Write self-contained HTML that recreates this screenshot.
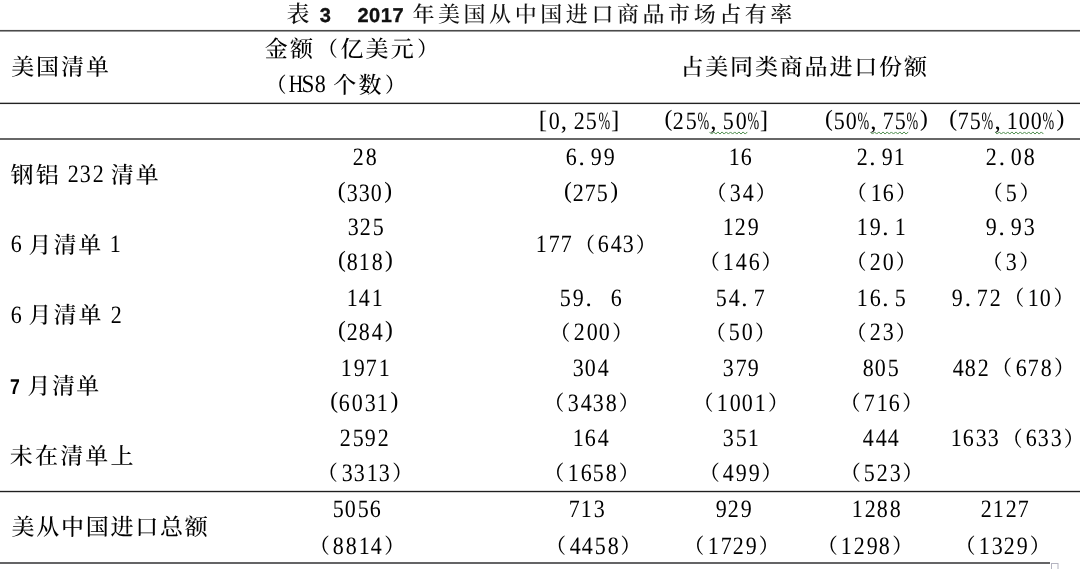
<!DOCTYPE html><html><head><meta charset="utf-8"><title>表3 2017年美国从中国进口商品市场占有率</title><style>
html,body{margin:0;padding:0;background:#fff}
body{width:1080px;height:569px;position:relative;overflow:hidden;text-rendering:geometricPrecision;-webkit-font-smoothing:antialiased}
.ln{position:absolute;white-space:nowrap;height:40px;line-height:40px;font-family:"Liberation Serif","Noto Serif CJK SC",serif;font-size:25px;color:#000;font-weight:500}
.ln span,.ln i{display:inline-block;text-align:center;font-style:normal;vertical-align:baseline}
.ln b{position:relative;display:inline-block;font-weight:inherit}
.ln .f{font-family:"Liberation Serif","Noto Serif CJK SC",serif;font-size:23px;text-align:left;font-weight:500;position:relative;top:0.6px}
.ln .p{font-size:20.5px;top:0}
.ln .k{font-family:"Liberation Sans",sans-serif;font-size:21.5px}
.ln .k b{font-weight:bold}
.ln u{display:inline-block;width:0;height:0;vertical-align:baseline}


.rule{position:absolute;left:0;width:1080px}
.tt{position:absolute;white-space:nowrap;line-height:40px;height:40px;color:#111}
.tt .c{font-family:"Liberation Serif","Noto Serif CJK SC",serif;font-size:22px;font-weight:500}
.tt .d{font-family:"Liberation Sans",sans-serif;font-weight:bold;font-size:20px;letter-spacing:0.6px;-webkit-text-stroke:0.35px #111}
svg{position:absolute;left:0;top:0}
</style></head><body>

<div class="tt" style="left:286.60px;top:-5.00px"><span class="c" style="font-size:23px">表</span></div>
<div class="tt" style="left:319.80px;top:-3.70px"><span class="d">3</span></div>
<div class="tt" style="left:357.40px;top:-3.70px"><span class="d">2017</span></div>
<div class="tt" style="left:412.40px;top:-4.70px"><span class="c" style="letter-spacing:3.57px">年美国从中国进口商品市场占有率</span></div>
<div class="rule" style="top:29px;height:1px;background:#f2f2f2"></div>
<div class="rule" style="top:30px;height:1px;background:#4a4a4a"></div>
<div class="rule" style="top:31px;height:1px;background:#9a9a9a"></div>
<div class="rule" style="top:102px;height:1px;background:#b8b8b8"></div>
<div class="rule" style="top:103px;height:1px;background:#222"></div>
<div class="rule" style="top:104px;height:1px;background:#f0f0f0"></div>
<div class="rule" style="top:138px;height:2px;background:#676767"></div>
<div class="rule" style="top:490px;height:1px;background:#dadada"></div>
<div class="rule" style="top:491px;height:1px;background:#1f1f1f"></div>
<div class="rule" style="top:492px;height:1px;background:#d0d0d0"></div>
<div class="rule" style="top:562px;height:2px;width:1050px;background:#646466"></div>
<div class="ln" style="left:11.15px;top:47.70px"><span class="f" style="width:24.943px">美</span><span class="f" style="width:24.943px">国</span><span class="f" style="width:24.943px">清</span><span class="f" style="width:24.943px">单</span></div>
<div class="ln" style="left:264.85px;top:29.50px"><span class="f" style="width:25.200px">金</span><span class="f" style="width:25.200px">额</span><span class="f p" style="width:25.200px"><b style="left:2.00px;top:-0.50px;margin-right:-30px">（</b></span><span class="f" style="width:25.200px">亿</span><span class="f" style="width:25.200px">美</span><span class="f" style="width:25.200px">元</span><span class="f p" style="width:25.200px"><b style="left:1.40px;top:-0.50px;margin-right:-30px">）</b></span></div>
<div class="ln" style="left:264.00px;top:65.30px"><span class="f p" style="width:25.200px"><b style="left:2.00px;top:-0.50px;margin-right:-30px">（</b></span><span class="h" style="width:12.600px"><b style="left:0.50px;top:0.00px;margin:0 -30px;transform:scaleX(0.80)">H</b></span><span class="h" style="width:12.600px"><b style="left:0.30px;top:0.00px;margin:0 -30px;transform:scaleX(0.93)">S</b></span><span class="h" style="width:12.600px"><b style="left:0.00px;top:0.00px;margin:0 -30px;transform:scaleX(0.88)">8</b></span><i style="width:6.300px"></i><span class="f" style="width:25.200px">个</span><span class="f" style="width:25.200px">数</span><span class="f p" style="width:25.200px"><b style="left:1.40px;top:-0.50px;margin-right:-30px">）</b></span></div>
<div class="ln" style="left:680.45px;top:47.90px"><span class="f" style="width:24.832px">占</span><span class="f" style="width:24.832px">美</span><span class="f" style="width:24.832px">同</span><span class="f" style="width:24.832px">类</span><span class="f" style="width:24.832px">商</span><span class="f" style="width:24.832px">品</span><span class="f" style="width:24.832px">进</span><span class="f" style="width:24.832px">口</span><span class="f" style="width:24.832px">份</span><span class="f" style="width:24.832px">额</span></div>
<div class="ln" style="left:535.00px;top:102.20px"><span class="h" style="width:12.600px"><b style="left:1.60px;top:-1.50px;margin:0 -30px">[</b></span><span class="h" style="width:12.600px"><b style="left:0.00px;top:0.00px;margin:0 -30px;transform:scaleX(0.88)">0</b></span><span class="h" style="width:12.600px;text-align:left"><b style="left:0.50px;top:0.00px;margin:0 -30px 0 0">,</b></span><span class="h" style="width:12.600px"><b style="left:0.00px;top:0.00px;margin:0 -30px;transform:scaleX(0.88)">2</b></span><span class="h" style="width:12.600px"><b style="left:0.00px;top:0.00px;margin:0 -30px;transform:scaleX(0.88)">5</b></span><span class="h" style="width:12.600px"><b style="left:0.00px;top:0.00px;margin:0 -30px;transform:scaleX(0.56)">%</b></span><span class="h" style="width:12.600px"><b style="left:-1.70px;top:-1.50px;margin:0 -30px">]</b></span></div>
<div class="ln" style="left:660.10px;top:102.20px"><span class="h" style="width:12.425px"><b style="left:2.00px;top:-2.90px;margin:0 -30px;font-size:23.5px">(</b></span><span class="h" style="width:12.425px"><b style="left:0.00px;top:0.00px;margin:0 -30px;transform:scaleX(0.88)">2</b></span><span class="h" style="width:12.425px"><b style="left:0.00px;top:0.00px;margin:0 -30px;transform:scaleX(0.88)">5</b></span><span class="h" style="width:12.425px"><b style="left:0.00px;top:0.00px;margin:0 -30px;transform:scaleX(0.56)">%</b></span><span class="h" style="width:12.425px;text-align:left"><b style="left:0.50px;top:0.00px;margin:0 -30px 0 0">,</b></span><span class="h" style="width:12.425px"><b style="left:0.00px;top:0.00px;margin:0 -30px;transform:scaleX(0.88)">5</b></span><span class="h" style="width:12.425px"><b style="left:0.00px;top:0.00px;margin:0 -30px;transform:scaleX(0.88)">0</b></span><span class="h" style="width:12.425px"><b style="left:0.00px;top:0.00px;margin:0 -30px;transform:scaleX(0.56)">%</b></span><span class="h" style="width:12.425px"><b style="left:-1.70px;top:-1.50px;margin:0 -30px">]</b></span></div>
<div class="ln" style="left:820.85px;top:102.20px"><span class="h" style="width:12.213px"><b style="left:2.00px;top:-2.90px;margin:0 -30px;font-size:23.5px">(</b></span><span class="h" style="width:12.213px"><b style="left:0.00px;top:0.00px;margin:0 -30px;transform:scaleX(0.88)">5</b></span><span class="h" style="width:12.213px"><b style="left:0.00px;top:0.00px;margin:0 -30px;transform:scaleX(0.88)">0</b></span><span class="h" style="width:12.213px"><b style="left:0.00px;top:0.00px;margin:0 -30px;transform:scaleX(0.56)">%</b></span><span class="h" style="width:12.213px;text-align:left"><b style="left:0.50px;top:0.00px;margin:0 -30px 0 0">,</b></span><span class="h" style="width:12.213px"><b style="left:0.00px;top:0.00px;margin:0 -30px;transform:scaleX(0.88)">7</b></span><span class="h" style="width:12.213px"><b style="left:0.00px;top:0.00px;margin:0 -30px;transform:scaleX(0.88)">5</b></span><span class="h" style="width:12.213px"><b style="left:0.00px;top:0.00px;margin:0 -30px;transform:scaleX(0.56)">%</b></span><span class="h" style="width:12.213px"><b style="left:-0.60px;top:-2.90px;margin:0 -30px;font-size:23.5px">)</b></span></div>
<div class="ln" style="left:945.15px;top:102.20px"><span class="h" style="width:12.211px"><b style="left:2.00px;top:-2.90px;margin:0 -30px;font-size:23.5px">(</b></span><span class="h" style="width:12.211px"><b style="left:0.00px;top:0.00px;margin:0 -30px;transform:scaleX(0.88)">7</b></span><span class="h" style="width:12.211px"><b style="left:0.00px;top:0.00px;margin:0 -30px;transform:scaleX(0.88)">5</b></span><span class="h" style="width:12.211px"><b style="left:0.00px;top:0.00px;margin:0 -30px;transform:scaleX(0.56)">%</b></span><span class="h" style="width:12.211px;text-align:left"><b style="left:0.50px;top:0.00px;margin:0 -30px 0 0">,</b></span><span class="h" style="width:12.211px"><b style="left:0.00px;top:0.00px;margin:0 -30px;transform:scaleX(0.88)">1</b></span><span class="h" style="width:12.211px"><b style="left:0.00px;top:0.00px;margin:0 -30px;transform:scaleX(0.88)">0</b></span><span class="h" style="width:12.211px"><b style="left:0.00px;top:0.00px;margin:0 -30px;transform:scaleX(0.88)">0</b></span><span class="h" style="width:12.211px"><b style="left:0.00px;top:0.00px;margin:0 -30px;transform:scaleX(0.56)">%</b></span><span class="h" style="width:12.211px"><b style="left:-0.60px;top:-2.90px;margin:0 -30px;font-size:23.5px">)</b></span></div>
<div class="ln" style="left:10.60px;top:155.30px"><span class="f" style="width:25.036px">钢</span><span class="f" style="width:25.036px">铝</span><i style="width:6.259px"></i><span class="h" style="width:12.518px"><b style="left:0.00px;top:0.00px;margin:0 -30px;transform:scaleX(0.88)">2</b></span><span class="h" style="width:12.518px"><b style="left:0.00px;top:0.00px;margin:0 -30px;transform:scaleX(0.88)">3</b></span><span class="h" style="width:12.518px"><b style="left:0.00px;top:0.00px;margin:0 -30px;transform:scaleX(0.88)">2</b></span><i style="width:6.259px"></i><span class="f" style="width:25.036px">清</span><span class="f" style="width:25.036px">单</span></div>
<div class="ln" style="left:10.00px;top:225.40px"><span class="h" style="width:12.400px"><b style="left:0.00px;top:0.00px;margin:0 -30px;transform:scaleX(0.88)">6</b></span><i style="width:6.200px"></i><span class="f" style="width:24.800px">月</span><span class="f" style="width:24.800px">清</span><span class="f" style="width:24.800px">单</span><i style="width:6.200px"></i><span class="h" style="width:12.400px"><b style="left:0.00px;top:0.00px;margin:0 -30px;transform:scaleX(0.88)">1</b></span></div>
<div class="ln" style="left:9.70px;top:295.50px"><span class="h" style="width:12.500px"><b style="left:0.00px;top:0.00px;margin:0 -30px;transform:scaleX(0.88)">6</b></span><i style="width:6.250px"></i><span class="f" style="width:25.000px">月</span><span class="f" style="width:25.000px">清</span><span class="f" style="width:25.000px">单</span><i style="width:6.250px"></i><span class="h" style="width:12.500px"><b style="left:0.00px;top:0.00px;margin:0 -30px;transform:scaleX(0.88)">2</b></span></div>
<div class="ln" style="left:9.25px;top:366.60px"><span class="h k" style="width:12.200px"><b style="margin:0 -30px;transform:scaleX(0.82)">7</b></span><i style="width:6.100px"></i><span class="f" style="width:24.400px">月</span><span class="f" style="width:24.400px">清</span><span class="f" style="width:24.400px">单</span></div>
<div class="ln" style="left:9.75px;top:436.00px"><span class="f" style="width:25.200px">未</span><span class="f" style="width:25.200px">在</span><span class="f" style="width:25.200px">清</span><span class="f" style="width:25.200px">单</span><span class="f" style="width:25.200px">上</span></div>
<div class="ln" style="left:11.50px;top:507.70px"><span class="f" style="width:24.760px">美</span><span class="f" style="width:24.760px">从</span><span class="f" style="width:24.760px">中</span><span class="f" style="width:24.760px">国</span><span class="f" style="width:24.760px">进</span><span class="f" style="width:24.760px">口</span><span class="f" style="width:24.760px">总</span><span class="f" style="width:24.760px">额</span></div>
<div class="ln" style="left:352.20px;top:137.90px"><span class="h" style="width:12.500px"><b style="left:0.00px;top:0.00px;margin:0 -30px;transform:scaleX(0.88)">2</b></span><span class="h" style="width:12.500px"><b style="left:0.00px;top:0.00px;margin:0 -30px;transform:scaleX(0.88)">8</b></span></div>
<div class="ln" style="left:333.65px;top:173.80px"><span class="h" style="width:12.275px"><b style="left:2.00px;top:-2.90px;margin:0 -30px;font-size:23.5px">(</b></span><span class="h" style="width:12.275px"><b style="left:0.00px;top:0.00px;margin:0 -30px;transform:scaleX(0.88)">3</b></span><span class="h" style="width:12.275px"><b style="left:0.00px;top:0.00px;margin:0 -30px;transform:scaleX(0.88)">3</b></span><span class="h" style="width:12.275px"><b style="left:0.00px;top:0.00px;margin:0 -30px;transform:scaleX(0.88)">0</b></span><span class="h" style="width:12.275px"><b style="left:-0.60px;top:-2.90px;margin:0 -30px;font-size:23.5px">)</b></span></div>
<div class="ln" style="left:565.10px;top:137.90px"><span class="h" style="width:12.500px"><b style="left:0.00px;top:0.00px;margin:0 -30px;transform:scaleX(0.88)">6</b></span><span class="h" style="width:12.500px;text-align:left"><b style="left:1.00px;top:0.00px;margin:0 -30px 0 0">.</b></span><span class="h" style="width:12.500px"><b style="left:0.00px;top:0.00px;margin:0 -30px;transform:scaleX(0.88)">9</b></span><span class="h" style="width:12.500px"><b style="left:0.00px;top:0.00px;margin:0 -30px;transform:scaleX(0.88)">9</b></span></div>
<div class="ln" style="left:559.85px;top:173.80px"><span class="h" style="width:12.200px"><b style="left:2.00px;top:-2.90px;margin:0 -30px;font-size:23.5px">(</b></span><span class="h" style="width:12.200px"><b style="left:0.00px;top:0.00px;margin:0 -30px;transform:scaleX(0.88)">2</b></span><span class="h" style="width:12.200px"><b style="left:0.00px;top:0.00px;margin:0 -30px;transform:scaleX(0.88)">7</b></span><span class="h" style="width:12.200px"><b style="left:0.00px;top:0.00px;margin:0 -30px;transform:scaleX(0.88)">5</b></span><span class="h" style="width:12.200px"><b style="left:-0.60px;top:-2.90px;margin:0 -30px;font-size:23.5px">)</b></span></div>
<div class="ln" style="left:727.75px;top:137.90px"><span class="h" style="width:12.500px"><b style="left:0.00px;top:0.00px;margin:0 -30px;transform:scaleX(0.88)">1</b></span><span class="h" style="width:12.500px"><b style="left:0.00px;top:0.00px;margin:0 -30px;transform:scaleX(0.88)">6</b></span></div>
<div class="ln" style="left:703.90px;top:173.80px"><span class="f p" style="width:25.200px"><b style="left:2.00px;top:-0.50px;margin-right:-30px">（</b></span><span class="h" style="width:12.600px"><b style="left:0.00px;top:0.00px;margin:0 -30px;transform:scaleX(0.88)">3</b></span><span class="h" style="width:12.600px"><b style="left:0.00px;top:0.00px;margin:0 -30px;transform:scaleX(0.88)">4</b></span><span class="f p" style="width:25.200px"><b style="left:1.40px;top:-0.50px;margin-right:-30px">）</b></span></div>
<div class="ln" style="left:855.75px;top:137.90px"><span class="h" style="width:12.500px"><b style="left:0.00px;top:0.00px;margin:0 -30px;transform:scaleX(0.88)">2</b></span><span class="h" style="width:12.500px;text-align:left"><b style="left:1.00px;top:0.00px;margin:0 -30px 0 0">.</b></span><span class="h" style="width:12.500px"><b style="left:0.00px;top:0.00px;margin:0 -30px;transform:scaleX(0.88)">9</b></span><span class="h" style="width:12.500px"><b style="left:0.00px;top:0.00px;margin:0 -30px;transform:scaleX(0.88)">1</b></span></div>
<div class="ln" style="left:844.35px;top:173.80px"><span class="f p" style="width:25.200px"><b style="left:2.00px;top:-0.50px;margin-right:-30px">（</b></span><span class="h" style="width:12.600px"><b style="left:0.00px;top:0.00px;margin:0 -30px;transform:scaleX(0.88)">1</b></span><span class="h" style="width:12.600px"><b style="left:0.00px;top:0.00px;margin:0 -30px;transform:scaleX(0.88)">6</b></span><span class="f p" style="width:25.200px"><b style="left:1.40px;top:-0.50px;margin-right:-30px">）</b></span></div>
<div class="ln" style="left:985.30px;top:137.90px"><span class="h" style="width:12.500px"><b style="left:0.00px;top:0.00px;margin:0 -30px;transform:scaleX(0.88)">2</b></span><span class="h" style="width:12.500px;text-align:left"><b style="left:1.00px;top:0.00px;margin:0 -30px 0 0">.</b></span><span class="h" style="width:12.500px"><b style="left:0.00px;top:0.00px;margin:0 -30px;transform:scaleX(0.88)">0</b></span><span class="h" style="width:12.500px"><b style="left:0.00px;top:0.00px;margin:0 -30px;transform:scaleX(0.88)">8</b></span></div>
<div class="ln" style="left:980.25px;top:173.80px"><span class="f p" style="width:25.200px"><b style="left:2.00px;top:-0.50px;margin-right:-30px">（</b></span><span class="h" style="width:12.600px"><b style="left:0.00px;top:0.00px;margin:0 -30px;transform:scaleX(0.88)">5</b></span><span class="f p" style="width:25.200px"><b style="left:1.40px;top:-0.50px;margin-right:-30px">）</b></span></div>
<div class="ln" style="left:346.50px;top:208.20px"><span class="h" style="width:12.500px"><b style="left:0.00px;top:0.00px;margin:0 -30px;transform:scaleX(0.88)">3</b></span><span class="h" style="width:12.500px"><b style="left:0.00px;top:0.00px;margin:0 -30px;transform:scaleX(0.88)">2</b></span><span class="h" style="width:12.500px"><b style="left:0.00px;top:0.00px;margin:0 -30px;transform:scaleX(0.88)">5</b></span></div>
<div class="ln" style="left:333.65px;top:242.80px"><span class="h" style="width:12.400px"><b style="left:2.00px;top:-2.90px;margin:0 -30px;font-size:23.5px">(</b></span><span class="h" style="width:12.400px"><b style="left:0.00px;top:0.00px;margin:0 -30px;transform:scaleX(0.88)">8</b></span><span class="h" style="width:12.400px"><b style="left:0.00px;top:0.00px;margin:0 -30px;transform:scaleX(0.88)">1</b></span><span class="h" style="width:12.400px"><b style="left:0.00px;top:0.00px;margin:0 -30px;transform:scaleX(0.88)">8</b></span><span class="h" style="width:12.400px"><b style="left:-0.60px;top:-2.90px;margin:0 -30px;font-size:23.5px">)</b></span></div>
<div class="ln" style="left:535.30px;top:225.40px"><span class="h" style="width:12.389px"><b style="left:0.00px;top:0.00px;margin:0 -30px;transform:scaleX(0.88)">1</b></span><span class="h" style="width:12.389px"><b style="left:0.00px;top:0.00px;margin:0 -30px;transform:scaleX(0.88)">7</b></span><span class="h" style="width:12.389px"><b style="left:0.00px;top:0.00px;margin:0 -30px;transform:scaleX(0.88)">7</b></span><span class="f p" style="width:24.778px"><b style="left:2.00px;top:-0.50px;margin-right:-30px">（</b></span><span class="h" style="width:12.389px"><b style="left:0.00px;top:0.00px;margin:0 -30px;transform:scaleX(0.88)">6</b></span><span class="h" style="width:12.389px"><b style="left:0.00px;top:0.00px;margin:0 -30px;transform:scaleX(0.88)">4</b></span><span class="h" style="width:12.389px"><b style="left:0.00px;top:0.00px;margin:0 -30px;transform:scaleX(0.88)">3</b></span><span class="f p" style="width:24.778px"><b style="left:1.40px;top:-0.50px;margin-right:-30px">）</b></span></div>
<div class="ln" style="left:721.60px;top:208.20px"><span class="h" style="width:12.500px"><b style="left:0.00px;top:0.00px;margin:0 -30px;transform:scaleX(0.88)">1</b></span><span class="h" style="width:12.500px"><b style="left:0.00px;top:0.00px;margin:0 -30px;transform:scaleX(0.88)">2</b></span><span class="h" style="width:12.500px"><b style="left:0.00px;top:0.00px;margin:0 -30px;transform:scaleX(0.88)">9</b></span></div>
<div class="ln" style="left:697.15px;top:242.80px"><span class="f p" style="width:25.200px"><b style="left:2.00px;top:-0.50px;margin-right:-30px">（</b></span><span class="h" style="width:12.600px"><b style="left:0.00px;top:0.00px;margin:0 -30px;transform:scaleX(0.88)">1</b></span><span class="h" style="width:12.600px"><b style="left:0.00px;top:0.00px;margin:0 -30px;transform:scaleX(0.88)">4</b></span><span class="h" style="width:12.600px"><b style="left:0.00px;top:0.00px;margin:0 -30px;transform:scaleX(0.88)">6</b></span><span class="f p" style="width:25.200px"><b style="left:1.40px;top:-0.50px;margin-right:-30px">）</b></span></div>
<div class="ln" style="left:856.30px;top:208.20px"><span class="h" style="width:12.500px"><b style="left:0.00px;top:0.00px;margin:0 -30px;transform:scaleX(0.88)">1</b></span><span class="h" style="width:12.500px"><b style="left:0.00px;top:0.00px;margin:0 -30px;transform:scaleX(0.88)">9</b></span><span class="h" style="width:12.500px;text-align:left"><b style="left:1.00px;top:0.00px;margin:0 -30px 0 0">.</b></span><span class="h" style="width:12.500px"><b style="left:0.00px;top:0.00px;margin:0 -30px;transform:scaleX(0.88)">1</b></span></div>
<div class="ln" style="left:844.00px;top:242.80px"><span class="f p" style="width:25.200px"><b style="left:2.00px;top:-0.50px;margin-right:-30px">（</b></span><span class="h" style="width:12.600px"><b style="left:0.00px;top:0.00px;margin:0 -30px;transform:scaleX(0.88)">2</b></span><span class="h" style="width:12.600px"><b style="left:0.00px;top:0.00px;margin:0 -30px;transform:scaleX(0.88)">0</b></span><span class="f p" style="width:25.200px"><b style="left:1.40px;top:-0.50px;margin-right:-30px">）</b></span></div>
<div class="ln" style="left:985.05px;top:208.20px"><span class="h" style="width:12.500px"><b style="left:0.00px;top:0.00px;margin:0 -30px;transform:scaleX(0.88)">9</b></span><span class="h" style="width:12.500px;text-align:left"><b style="left:1.00px;top:0.00px;margin:0 -30px 0 0">.</b></span><span class="h" style="width:12.500px"><b style="left:0.00px;top:0.00px;margin:0 -30px;transform:scaleX(0.88)">9</b></span><span class="h" style="width:12.500px"><b style="left:0.00px;top:0.00px;margin:0 -30px;transform:scaleX(0.88)">3</b></span></div>
<div class="ln" style="left:980.00px;top:242.80px"><span class="f p" style="width:25.200px"><b style="left:2.00px;top:-0.50px;margin-right:-30px">（</b></span><span class="h" style="width:12.600px"><b style="left:0.00px;top:0.00px;margin:0 -30px;transform:scaleX(0.88)">3</b></span><span class="f p" style="width:25.200px"><b style="left:1.40px;top:-0.50px;margin-right:-30px">）</b></span></div>
<div class="ln" style="left:345.85px;top:278.80px"><span class="h" style="width:12.500px"><b style="left:0.00px;top:0.00px;margin:0 -30px;transform:scaleX(0.88)">1</b></span><span class="h" style="width:12.500px"><b style="left:0.00px;top:0.00px;margin:0 -30px;transform:scaleX(0.88)">4</b></span><span class="h" style="width:12.500px"><b style="left:0.00px;top:0.00px;margin:0 -30px;transform:scaleX(0.88)">1</b></span></div>
<div class="ln" style="left:333.65px;top:313.30px"><span class="h" style="width:12.400px"><b style="left:2.00px;top:-2.90px;margin:0 -30px;font-size:23.5px">(</b></span><span class="h" style="width:12.400px"><b style="left:0.00px;top:0.00px;margin:0 -30px;transform:scaleX(0.88)">2</b></span><span class="h" style="width:12.400px"><b style="left:0.00px;top:0.00px;margin:0 -30px;transform:scaleX(0.88)">8</b></span><span class="h" style="width:12.400px"><b style="left:0.00px;top:0.00px;margin:0 -30px;transform:scaleX(0.88)">4</b></span><span class="h" style="width:12.400px"><b style="left:-0.60px;top:-2.90px;margin:0 -30px;font-size:23.5px">)</b></span></div>
<div class="ln" style="left:559.35px;top:278.80px"><span class="h" style="width:12.600px"><b style="left:0.00px;top:0.00px;margin:0 -30px;transform:scaleX(0.88)">5</b></span><span class="h" style="width:12.600px"><b style="left:0.00px;top:0.00px;margin:0 -30px;transform:scaleX(0.88)">9</b></span><span class="h" style="width:12.600px;text-align:left"><b style="left:1.00px;top:0.00px;margin:0 -30px 0 0">.</b></span><i style="width:12.600px"></i><span class="h" style="width:12.600px"><b style="left:0.00px;top:0.00px;margin:0 -30px;transform:scaleX(0.88)">6</b></span></div>
<div class="ln" style="left:547.85px;top:313.30px"><span class="f p" style="width:25.200px"><b style="left:2.00px;top:-0.50px;margin-right:-30px">（</b></span><span class="h" style="width:12.600px"><b style="left:0.00px;top:0.00px;margin:0 -30px;transform:scaleX(0.88)">2</b></span><span class="h" style="width:12.600px"><b style="left:0.00px;top:0.00px;margin:0 -30px;transform:scaleX(0.88)">0</b></span><span class="h" style="width:12.600px"><b style="left:0.00px;top:0.00px;margin:0 -30px;transform:scaleX(0.88)">0</b></span><span class="f p" style="width:25.200px"><b style="left:1.40px;top:-0.50px;margin-right:-30px">）</b></span></div>
<div class="ln" style="left:715.20px;top:278.80px"><span class="h" style="width:12.500px"><b style="left:0.00px;top:0.00px;margin:0 -30px;transform:scaleX(0.88)">5</b></span><span class="h" style="width:12.500px"><b style="left:0.00px;top:0.00px;margin:0 -30px;transform:scaleX(0.88)">4</b></span><span class="h" style="width:12.500px;text-align:left"><b style="left:1.00px;top:0.00px;margin:0 -30px 0 0">.</b></span><span class="h" style="width:12.500px"><b style="left:0.00px;top:0.00px;margin:0 -30px;transform:scaleX(0.88)">7</b></span></div>
<div class="ln" style="left:703.20px;top:313.30px"><span class="f p" style="width:25.200px"><b style="left:2.00px;top:-0.50px;margin-right:-30px">（</b></span><span class="h" style="width:12.600px"><b style="left:0.00px;top:0.00px;margin:0 -30px;transform:scaleX(0.88)">5</b></span><span class="h" style="width:12.600px"><b style="left:0.00px;top:0.00px;margin:0 -30px;transform:scaleX(0.88)">0</b></span><span class="f p" style="width:25.200px"><b style="left:1.40px;top:-0.50px;margin-right:-30px">）</b></span></div>
<div class="ln" style="left:856.20px;top:278.80px"><span class="h" style="width:12.500px"><b style="left:0.00px;top:0.00px;margin:0 -30px;transform:scaleX(0.88)">1</b></span><span class="h" style="width:12.500px"><b style="left:0.00px;top:0.00px;margin:0 -30px;transform:scaleX(0.88)">6</b></span><span class="h" style="width:12.500px;text-align:left"><b style="left:1.00px;top:0.00px;margin:0 -30px 0 0">.</b></span><span class="h" style="width:12.500px"><b style="left:0.00px;top:0.00px;margin:0 -30px;transform:scaleX(0.88)">5</b></span></div>
<div class="ln" style="left:844.00px;top:313.30px"><span class="f p" style="width:25.200px"><b style="left:2.00px;top:-0.50px;margin-right:-30px">（</b></span><span class="h" style="width:12.600px"><b style="left:0.00px;top:0.00px;margin:0 -30px;transform:scaleX(0.88)">2</b></span><span class="h" style="width:12.600px"><b style="left:0.00px;top:0.00px;margin:0 -30px;transform:scaleX(0.88)">3</b></span><span class="f p" style="width:25.200px"><b style="left:1.40px;top:-0.50px;margin-right:-30px">）</b></span></div>
<div class="ln" style="left:951.25px;top:278.80px"><span class="h" style="width:12.600px"><b style="left:0.00px;top:0.00px;margin:0 -30px;transform:scaleX(0.88)">9</b></span><span class="h" style="width:12.600px;text-align:left"><b style="left:1.00px;top:0.00px;margin:0 -30px 0 0">.</b></span><span class="h" style="width:12.600px"><b style="left:0.00px;top:0.00px;margin:0 -30px;transform:scaleX(0.88)">7</b></span><span class="h" style="width:12.600px"><b style="left:0.00px;top:0.00px;margin:0 -30px;transform:scaleX(0.88)">2</b></span><span class="f p" style="width:25.200px"><b style="left:2.00px;top:-0.50px;margin-right:-30px">（</b></span><span class="h" style="width:12.600px"><b style="left:0.00px;top:0.00px;margin:0 -30px;transform:scaleX(0.88)">1</b></span><span class="h" style="width:12.600px"><b style="left:0.00px;top:0.00px;margin:0 -30px;transform:scaleX(0.88)">0</b></span><span class="f p" style="width:25.200px"><b style="left:1.40px;top:-0.50px;margin-right:-30px">）</b></span></div>
<div class="ln" style="left:340.25px;top:348.80px"><span class="h" style="width:12.500px"><b style="left:0.00px;top:0.00px;margin:0 -30px;transform:scaleX(0.88)">1</b></span><span class="h" style="width:12.500px"><b style="left:0.00px;top:0.00px;margin:0 -30px;transform:scaleX(0.88)">9</b></span><span class="h" style="width:12.500px"><b style="left:0.00px;top:0.00px;margin:0 -30px;transform:scaleX(0.88)">7</b></span><span class="h" style="width:12.500px"><b style="left:0.00px;top:0.00px;margin:0 -30px;transform:scaleX(0.88)">1</b></span></div>
<div class="ln" style="left:325.80px;top:383.50px"><span class="h" style="width:12.600px"><b style="left:2.00px;top:-2.90px;margin:0 -30px;font-size:23.5px">(</b></span><span class="h" style="width:12.600px"><b style="left:0.00px;top:0.00px;margin:0 -30px;transform:scaleX(0.88)">6</b></span><span class="h" style="width:12.600px"><b style="left:0.00px;top:0.00px;margin:0 -30px;transform:scaleX(0.88)">0</b></span><span class="h" style="width:12.600px"><b style="left:0.00px;top:0.00px;margin:0 -30px;transform:scaleX(0.88)">3</b></span><span class="h" style="width:12.600px"><b style="left:0.00px;top:0.00px;margin:0 -30px;transform:scaleX(0.88)">1</b></span><span class="h" style="width:12.600px"><b style="left:-0.60px;top:-2.90px;margin:0 -30px;font-size:23.5px">)</b></span></div>
<div class="ln" style="left:571.70px;top:348.80px"><span class="h" style="width:12.500px"><b style="left:0.00px;top:0.00px;margin:0 -30px;transform:scaleX(0.88)">3</b></span><span class="h" style="width:12.500px"><b style="left:0.00px;top:0.00px;margin:0 -30px;transform:scaleX(0.88)">0</b></span><span class="h" style="width:12.500px"><b style="left:0.00px;top:0.00px;margin:0 -30px;transform:scaleX(0.88)">4</b></span></div>
<div class="ln" style="left:541.80px;top:383.50px"><span class="f p" style="width:25.200px"><b style="left:2.00px;top:-0.50px;margin-right:-30px">（</b></span><span class="h" style="width:12.600px"><b style="left:0.00px;top:0.00px;margin:0 -30px;transform:scaleX(0.88)">3</b></span><span class="h" style="width:12.600px"><b style="left:0.00px;top:0.00px;margin:0 -30px;transform:scaleX(0.88)">4</b></span><span class="h" style="width:12.600px"><b style="left:0.00px;top:0.00px;margin:0 -30px;transform:scaleX(0.88)">3</b></span><span class="h" style="width:12.600px"><b style="left:0.00px;top:0.00px;margin:0 -30px;transform:scaleX(0.88)">8</b></span><span class="f p" style="width:25.200px"><b style="left:1.40px;top:-0.50px;margin-right:-30px">）</b></span></div>
<div class="ln" style="left:722.10px;top:348.80px"><span class="h" style="width:12.500px"><b style="left:0.00px;top:0.00px;margin:0 -30px;transform:scaleX(0.88)">3</b></span><span class="h" style="width:12.500px"><b style="left:0.00px;top:0.00px;margin:0 -30px;transform:scaleX(0.88)">7</b></span><span class="h" style="width:12.500px"><b style="left:0.00px;top:0.00px;margin:0 -30px;transform:scaleX(0.88)">9</b></span></div>
<div class="ln" style="left:691.00px;top:383.50px"><span class="f p" style="width:25.200px"><b style="left:2.00px;top:-0.50px;margin-right:-30px">（</b></span><span class="h" style="width:12.600px"><b style="left:0.00px;top:0.00px;margin:0 -30px;transform:scaleX(0.88)">1</b></span><span class="h" style="width:12.600px"><b style="left:0.00px;top:0.00px;margin:0 -30px;transform:scaleX(0.88)">0</b></span><span class="h" style="width:12.600px"><b style="left:0.00px;top:0.00px;margin:0 -30px;transform:scaleX(0.88)">0</b></span><span class="h" style="width:12.600px"><b style="left:0.00px;top:0.00px;margin:0 -30px;transform:scaleX(0.88)">1</b></span><span class="f p" style="width:25.200px"><b style="left:1.40px;top:-0.50px;margin-right:-30px">）</b></span></div>
<div class="ln" style="left:861.90px;top:348.80px"><span class="h" style="width:12.500px"><b style="left:0.00px;top:0.00px;margin:0 -30px;transform:scaleX(0.88)">8</b></span><span class="h" style="width:12.500px"><b style="left:0.00px;top:0.00px;margin:0 -30px;transform:scaleX(0.88)">0</b></span><span class="h" style="width:12.500px"><b style="left:0.00px;top:0.00px;margin:0 -30px;transform:scaleX(0.88)">5</b></span></div>
<div class="ln" style="left:837.95px;top:383.50px"><span class="f p" style="width:25.200px"><b style="left:2.00px;top:-0.50px;margin-right:-30px">（</b></span><span class="h" style="width:12.600px"><b style="left:0.00px;top:0.00px;margin:0 -30px;transform:scaleX(0.88)">7</b></span><span class="h" style="width:12.600px"><b style="left:0.00px;top:0.00px;margin:0 -30px;transform:scaleX(0.88)">1</b></span><span class="h" style="width:12.600px"><b style="left:0.00px;top:0.00px;margin:0 -30px;transform:scaleX(0.88)">6</b></span><span class="f p" style="width:25.200px"><b style="left:1.40px;top:-0.50px;margin-right:-30px">）</b></span></div>
<div class="ln" style="left:951.75px;top:348.80px"><span class="h" style="width:12.600px"><b style="left:0.00px;top:0.00px;margin:0 -30px;transform:scaleX(0.88)">4</b></span><span class="h" style="width:12.600px"><b style="left:0.00px;top:0.00px;margin:0 -30px;transform:scaleX(0.88)">8</b></span><span class="h" style="width:12.600px"><b style="left:0.00px;top:0.00px;margin:0 -30px;transform:scaleX(0.88)">2</b></span><span class="f p" style="width:25.200px"><b style="left:2.00px;top:-0.50px;margin-right:-30px">（</b></span><span class="h" style="width:12.600px"><b style="left:0.00px;top:0.00px;margin:0 -30px;transform:scaleX(0.88)">6</b></span><span class="h" style="width:12.600px"><b style="left:0.00px;top:0.00px;margin:0 -30px;transform:scaleX(0.88)">7</b></span><span class="h" style="width:12.600px"><b style="left:0.00px;top:0.00px;margin:0 -30px;transform:scaleX(0.88)">8</b></span><span class="f p" style="width:25.200px"><b style="left:1.40px;top:-0.50px;margin-right:-30px">）</b></span></div>
<div class="ln" style="left:339.30px;top:419.30px"><span class="h" style="width:12.500px"><b style="left:0.00px;top:0.00px;margin:0 -30px;transform:scaleX(0.88)">2</b></span><span class="h" style="width:12.500px"><b style="left:0.00px;top:0.00px;margin:0 -30px;transform:scaleX(0.88)">5</b></span><span class="h" style="width:12.500px"><b style="left:0.00px;top:0.00px;margin:0 -30px;transform:scaleX(0.88)">9</b></span><span class="h" style="width:12.500px"><b style="left:0.00px;top:0.00px;margin:0 -30px;transform:scaleX(0.88)">2</b></span></div>
<div class="ln" style="left:315.30px;top:453.80px"><span class="f p" style="width:25.200px"><b style="left:2.00px;top:-0.50px;margin-right:-30px">（</b></span><span class="h" style="width:12.600px"><b style="left:0.00px;top:0.00px;margin:0 -30px;transform:scaleX(0.88)">3</b></span><span class="h" style="width:12.600px"><b style="left:0.00px;top:0.00px;margin:0 -30px;transform:scaleX(0.88)">3</b></span><span class="h" style="width:12.600px"><b style="left:0.00px;top:0.00px;margin:0 -30px;transform:scaleX(0.88)">1</b></span><span class="h" style="width:12.600px"><b style="left:0.00px;top:0.00px;margin:0 -30px;transform:scaleX(0.88)">3</b></span><span class="f p" style="width:25.200px"><b style="left:1.40px;top:-0.50px;margin-right:-30px">）</b></span></div>
<div class="ln" style="left:571.50px;top:419.30px"><span class="h" style="width:12.500px"><b style="left:0.00px;top:0.00px;margin:0 -30px;transform:scaleX(0.88)">1</b></span><span class="h" style="width:12.500px"><b style="left:0.00px;top:0.00px;margin:0 -30px;transform:scaleX(0.88)">6</b></span><span class="h" style="width:12.500px"><b style="left:0.00px;top:0.00px;margin:0 -30px;transform:scaleX(0.88)">4</b></span></div>
<div class="ln" style="left:541.80px;top:453.80px"><span class="f p" style="width:25.200px"><b style="left:2.00px;top:-0.50px;margin-right:-30px">（</b></span><span class="h" style="width:12.600px"><b style="left:0.00px;top:0.00px;margin:0 -30px;transform:scaleX(0.88)">1</b></span><span class="h" style="width:12.600px"><b style="left:0.00px;top:0.00px;margin:0 -30px;transform:scaleX(0.88)">6</b></span><span class="h" style="width:12.600px"><b style="left:0.00px;top:0.00px;margin:0 -30px;transform:scaleX(0.88)">5</b></span><span class="h" style="width:12.600px"><b style="left:0.00px;top:0.00px;margin:0 -30px;transform:scaleX(0.88)">8</b></span><span class="f p" style="width:25.200px"><b style="left:1.40px;top:-0.50px;margin-right:-30px">）</b></span></div>
<div class="ln" style="left:722.25px;top:419.30px"><span class="h" style="width:12.500px"><b style="left:0.00px;top:0.00px;margin:0 -30px;transform:scaleX(0.88)">3</b></span><span class="h" style="width:12.500px"><b style="left:0.00px;top:0.00px;margin:0 -30px;transform:scaleX(0.88)">5</b></span><span class="h" style="width:12.500px"><b style="left:0.00px;top:0.00px;margin:0 -30px;transform:scaleX(0.88)">1</b></span></div>
<div class="ln" style="left:697.15px;top:453.80px"><span class="f p" style="width:25.200px"><b style="left:2.00px;top:-0.50px;margin-right:-30px">（</b></span><span class="h" style="width:12.600px"><b style="left:0.00px;top:0.00px;margin:0 -30px;transform:scaleX(0.88)">4</b></span><span class="h" style="width:12.600px"><b style="left:0.00px;top:0.00px;margin:0 -30px;transform:scaleX(0.88)">9</b></span><span class="h" style="width:12.600px"><b style="left:0.00px;top:0.00px;margin:0 -30px;transform:scaleX(0.88)">9</b></span><span class="f p" style="width:25.200px"><b style="left:1.40px;top:-0.50px;margin-right:-30px">）</b></span></div>
<div class="ln" style="left:862.40px;top:419.30px"><span class="h" style="width:12.500px"><b style="left:0.00px;top:0.00px;margin:0 -30px;transform:scaleX(0.88)">4</b></span><span class="h" style="width:12.500px"><b style="left:0.00px;top:0.00px;margin:0 -30px;transform:scaleX(0.88)">4</b></span><span class="h" style="width:12.500px"><b style="left:0.00px;top:0.00px;margin:0 -30px;transform:scaleX(0.88)">4</b></span></div>
<div class="ln" style="left:838.25px;top:453.80px"><span class="f p" style="width:25.200px"><b style="left:2.00px;top:-0.50px;margin-right:-30px">（</b></span><span class="h" style="width:12.600px"><b style="left:0.00px;top:0.00px;margin:0 -30px;transform:scaleX(0.88)">5</b></span><span class="h" style="width:12.600px"><b style="left:0.00px;top:0.00px;margin:0 -30px;transform:scaleX(0.88)">2</b></span><span class="h" style="width:12.600px"><b style="left:0.00px;top:0.00px;margin:0 -30px;transform:scaleX(0.88)">3</b></span><span class="f p" style="width:25.200px"><b style="left:1.40px;top:-0.50px;margin-right:-30px">）</b></span></div>
<div class="ln" style="left:950.00px;top:419.30px"><span class="h" style="width:12.480px"><b style="left:0.00px;top:0.00px;margin:0 -30px;transform:scaleX(0.88)">1</b></span><span class="h" style="width:12.480px"><b style="left:0.00px;top:0.00px;margin:0 -30px;transform:scaleX(0.88)">6</b></span><span class="h" style="width:12.480px"><b style="left:0.00px;top:0.00px;margin:0 -30px;transform:scaleX(0.88)">3</b></span><span class="h" style="width:12.480px"><b style="left:0.00px;top:0.00px;margin:0 -30px;transform:scaleX(0.88)">3</b></span><span class="f p" style="width:24.960px"><b style="left:2.00px;top:-0.50px;margin-right:-30px">（</b></span><span class="h" style="width:12.480px"><b style="left:0.00px;top:0.00px;margin:0 -30px;transform:scaleX(0.88)">6</b></span><span class="h" style="width:12.480px"><b style="left:0.00px;top:0.00px;margin:0 -30px;transform:scaleX(0.88)">3</b></span><span class="h" style="width:12.480px"><b style="left:0.00px;top:0.00px;margin:0 -30px;transform:scaleX(0.88)">3</b></span><span class="f p" style="width:24.960px"><b style="left:1.40px;top:-0.50px;margin-right:-30px">）</b></span></div>
<div class="ln" style="left:331.90px;top:490.20px"><span class="h" style="width:12.500px"><b style="left:0.00px;top:0.00px;margin:0 -30px;transform:scaleX(0.88)">5</b></span><span class="h" style="width:12.500px"><b style="left:0.00px;top:0.00px;margin:0 -30px;transform:scaleX(0.88)">0</b></span><span class="h" style="width:12.500px"><b style="left:0.00px;top:0.00px;margin:0 -30px;transform:scaleX(0.88)">5</b></span><span class="h" style="width:12.500px"><b style="left:0.00px;top:0.00px;margin:0 -30px;transform:scaleX(0.88)">6</b></span></div>
<div class="ln" style="left:307.25px;top:526.70px"><span class="f p" style="width:25.200px"><b style="left:2.00px;top:-0.50px;margin-right:-30px">（</b></span><span class="h" style="width:12.600px"><b style="left:0.00px;top:0.00px;margin:0 -30px;transform:scaleX(0.88)">8</b></span><span class="h" style="width:12.600px"><b style="left:0.00px;top:0.00px;margin:0 -30px;transform:scaleX(0.88)">8</b></span><span class="h" style="width:12.600px"><b style="left:0.00px;top:0.00px;margin:0 -30px;transform:scaleX(0.88)">1</b></span><span class="h" style="width:12.600px"><b style="left:0.00px;top:0.00px;margin:0 -30px;transform:scaleX(0.88)">4</b></span><span class="f p" style="width:25.200px"><b style="left:1.40px;top:-0.50px;margin-right:-30px">）</b></span></div>
<div class="ln" style="left:567.50px;top:490.20px"><span class="h" style="width:12.500px"><b style="left:0.00px;top:0.00px;margin:0 -30px;transform:scaleX(0.88)">7</b></span><span class="h" style="width:12.500px"><b style="left:0.00px;top:0.00px;margin:0 -30px;transform:scaleX(0.88)">1</b></span><span class="h" style="width:12.500px"><b style="left:0.00px;top:0.00px;margin:0 -30px;transform:scaleX(0.88)">3</b></span></div>
<div class="ln" style="left:543.50px;top:526.70px"><span class="f p" style="width:25.200px"><b style="left:2.00px;top:-0.50px;margin-right:-30px">（</b></span><span class="h" style="width:12.600px"><b style="left:0.00px;top:0.00px;margin:0 -30px;transform:scaleX(0.88)">4</b></span><span class="h" style="width:12.600px"><b style="left:0.00px;top:0.00px;margin:0 -30px;transform:scaleX(0.88)">4</b></span><span class="h" style="width:12.600px"><b style="left:0.00px;top:0.00px;margin:0 -30px;transform:scaleX(0.88)">5</b></span><span class="h" style="width:12.600px"><b style="left:0.00px;top:0.00px;margin:0 -30px;transform:scaleX(0.88)">8</b></span><span class="f p" style="width:25.200px"><b style="left:1.40px;top:-0.50px;margin-right:-30px">）</b></span></div>
<div class="ln" style="left:714.55px;top:490.20px"><span class="h" style="width:12.500px"><b style="left:0.00px;top:0.00px;margin:0 -30px;transform:scaleX(0.88)">9</b></span><span class="h" style="width:12.500px"><b style="left:0.00px;top:0.00px;margin:0 -30px;transform:scaleX(0.88)">2</b></span><span class="h" style="width:12.500px"><b style="left:0.00px;top:0.00px;margin:0 -30px;transform:scaleX(0.88)">9</b></span></div>
<div class="ln" style="left:681.70px;top:526.70px"><span class="f p" style="width:25.200px"><b style="left:2.00px;top:-0.50px;margin-right:-30px">（</b></span><span class="h" style="width:12.600px"><b style="left:0.00px;top:0.00px;margin:0 -30px;transform:scaleX(0.88)">1</b></span><span class="h" style="width:12.600px"><b style="left:0.00px;top:0.00px;margin:0 -30px;transform:scaleX(0.88)">7</b></span><span class="h" style="width:12.600px"><b style="left:0.00px;top:0.00px;margin:0 -30px;transform:scaleX(0.88)">2</b></span><span class="h" style="width:12.600px"><b style="left:0.00px;top:0.00px;margin:0 -30px;transform:scaleX(0.88)">9</b></span><span class="f p" style="width:25.200px"><b style="left:1.40px;top:-0.50px;margin-right:-30px">）</b></span></div>
<div class="ln" style="left:851.45px;top:490.20px"><span class="h" style="width:12.500px"><b style="left:0.00px;top:0.00px;margin:0 -30px;transform:scaleX(0.88)">1</b></span><span class="h" style="width:12.500px"><b style="left:0.00px;top:0.00px;margin:0 -30px;transform:scaleX(0.88)">2</b></span><span class="h" style="width:12.500px"><b style="left:0.00px;top:0.00px;margin:0 -30px;transform:scaleX(0.88)">8</b></span><span class="h" style="width:12.500px"><b style="left:0.00px;top:0.00px;margin:0 -30px;transform:scaleX(0.88)">8</b></span></div>
<div class="ln" style="left:815.25px;top:526.70px"><span class="f p" style="width:25.200px"><b style="left:2.00px;top:-0.50px;margin-right:-30px">（</b></span><span class="h" style="width:12.600px"><b style="left:0.00px;top:0.00px;margin:0 -30px;transform:scaleX(0.88)">1</b></span><span class="h" style="width:12.600px"><b style="left:0.00px;top:0.00px;margin:0 -30px;transform:scaleX(0.88)">2</b></span><span class="h" style="width:12.600px"><b style="left:0.00px;top:0.00px;margin:0 -30px;transform:scaleX(0.88)">9</b></span><span class="h" style="width:12.600px"><b style="left:0.00px;top:0.00px;margin:0 -30px;transform:scaleX(0.88)">8</b></span><span class="f p" style="width:25.200px"><b style="left:1.40px;top:-0.50px;margin-right:-30px">）</b></span></div>
<div class="ln" style="left:979.85px;top:490.20px"><span class="h" style="width:12.500px"><b style="left:0.00px;top:0.00px;margin:0 -30px;transform:scaleX(0.88)">2</b></span><span class="h" style="width:12.500px"><b style="left:0.00px;top:0.00px;margin:0 -30px;transform:scaleX(0.88)">1</b></span><span class="h" style="width:12.500px"><b style="left:0.00px;top:0.00px;margin:0 -30px;transform:scaleX(0.88)">2</b></span><span class="h" style="width:12.500px"><b style="left:0.00px;top:0.00px;margin:0 -30px;transform:scaleX(0.88)">7</b></span></div>
<div class="ln" style="left:952.90px;top:526.70px"><span class="f p" style="width:25.200px"><b style="left:2.00px;top:-0.50px;margin-right:-30px">（</b></span><span class="h" style="width:12.600px"><b style="left:0.00px;top:0.00px;margin:0 -30px;transform:scaleX(0.88)">1</b></span><span class="h" style="width:12.600px"><b style="left:0.00px;top:0.00px;margin:0 -30px;transform:scaleX(0.88)">3</b></span><span class="h" style="width:12.600px"><b style="left:0.00px;top:0.00px;margin:0 -30px;transform:scaleX(0.88)">2</b></span><span class="h" style="width:12.600px"><b style="left:0.00px;top:0.00px;margin:0 -30px;transform:scaleX(0.88)">9</b></span><span class="f p" style="width:25.200px"><b style="left:1.40px;top:-0.50px;margin-right:-30px">）</b></span></div>
<svg width="1080" height="569" viewBox="0 0 1080 569"><polyline points="709.50,131.95 711.60,134.05 713.70,131.95 715.80,134.05 717.90,131.95 720.00,134.05 722.10,131.95 724.20,134.05 726.30,131.95 728.40,134.05 730.50,131.95 732.60,134.05 734.70,131.95 736.80,134.05 738.90,131.95 741.00,134.05 743.10,131.95 745.20,134.05 747.30,131.95" fill="none" stroke="#4c8c4c" stroke-width="1.0" stroke-linejoin="round"/><polyline points="870.40,131.95 872.50,134.05 874.60,131.95 876.70,134.05 878.80,131.95 880.90,134.05 883.00,131.95 885.10,134.05 887.20,131.95 889.30,134.05 891.40,131.95 893.50,134.05 895.60,131.95 897.70,134.05 899.80,131.95 901.90,134.05 904.00,131.95 906.10,134.05 908.20,131.95" fill="none" stroke="#4c8c4c" stroke-width="1.0" stroke-linejoin="round"/><polyline points="995.10,131.95 997.20,134.05 999.30,131.95 1001.40,134.05 1003.50,131.95 1005.60,134.05 1007.70,131.95 1009.80,134.05 1011.90,131.95 1014.00,134.05 1016.10,131.95 1018.20,134.05 1020.30,131.95 1022.40,134.05 1024.50,131.95 1026.60,134.05 1028.70,131.95 1030.80,134.05 1032.90,131.95 1035.00,134.05 1037.10,131.95 1039.20,134.05 1041.30,131.95 1043.40,134.05" fill="none" stroke="#4c8c4c" stroke-width="1.0" stroke-linejoin="round"/><rect x="1051.5" y="563.5" width="6.5" height="7" fill="none" stroke="#b4b4c0" stroke-width="1"/></svg>
</body></html>
